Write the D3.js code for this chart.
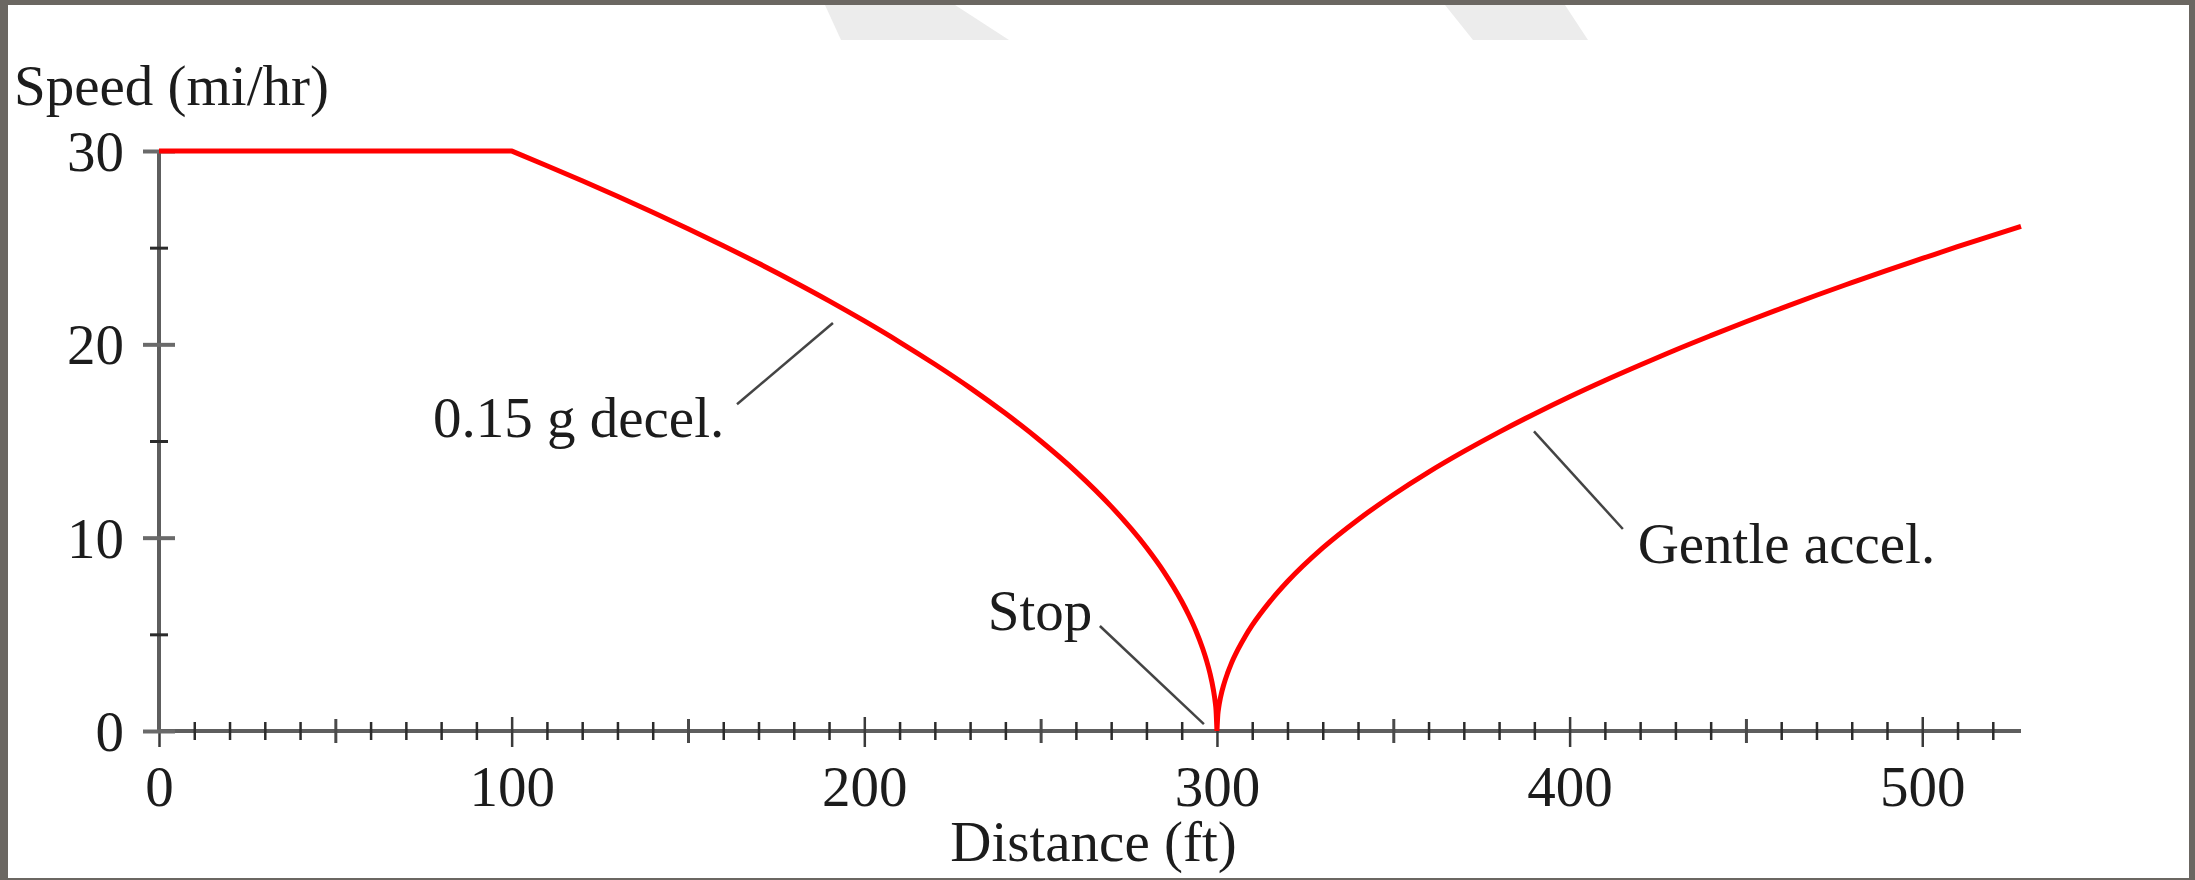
<!DOCTYPE html>
<html>
<head>
<meta charset="utf-8">
<script src="https://cdn.jsdelivr.net/npm/d3@7"></script>
<style>
  html, body { margin: 0; padding: 0; background: #ffffff; overflow: hidden; }
  svg text { font-family: "Liberation Serif", "Times New Roman", serif; fill: #1c1c1c; }
</style>
</head>
<body>
<svg id="chart" width="2195" height="880"></svg>
<script>
// Speed profile of a vehicle: cruise, brake to a stop, then pull away again.
// Distance in feet, speed in miles per hour.
const cruiseDist  = [0, 100];
const cruiseSpeed = [30, 30];

const decelDist  = [100, 110, 120, 130, 140, 150, 160, 170, 180, 190, 200, 210, 220,
                    230, 240, 250, 260, 270, 280, 285, 290, 292, 294, 296, 297, 298,
                    299, 299.5, 299.75, 300];
const decelSpeed = [30, 29.24, 28.46, 27.66, 26.83, 25.98, 25.10, 24.19, 23.24, 22.25,
                    21.21, 20.12, 18.97, 17.75, 16.43, 15.00, 13.42, 11.62, 9.49, 8.22,
                    6.71, 6.00, 5.20, 4.24, 3.67, 3.00, 2.12, 1.50, 1.06, 0];

const accelDist  = [300, 300.25, 300.5, 301, 302, 303, 304, 306, 308, 310, 315, 320, 330,
                    340, 350, 360, 370, 380, 390, 400, 410, 420, 430, 440, 450, 460, 470,
                    480, 490, 500, 510, 520, 528];
const accelSpeed = [0, 0.86, 1.22, 1.73, 2.44, 2.99, 3.46, 4.23, 4.89, 5.47, 6.69, 7.73,
                    9.47, 10.93, 12.22, 13.39, 14.46, 15.46, 16.40, 17.29, 18.13, 18.93,
                    19.71, 20.45, 21.17, 21.86, 22.54, 23.19, 23.83, 24.44, 25.05, 25.64,
                    26.10];

const xTickLabels = [0, 100, 200, 300, 400, 500];
const yTickLabels = [0, 10, 20, 30];

const noteLabels = ["0.15 g decel.", "Stop", "Gentle accel."];

// ---------------------------------------------------------------------------
const W = 2195, H = 880;
const svg = d3.select("#chart");

// frame and page
svg.append("rect").attr("width", W).attr("height", H).attr("fill", "#6b6762");
svg.append("rect").attr("x", 8).attr("y", 5).attr("width", 2181).attr("height", 873).attr("fill", "#ffffff");

// faint marks along the top edge of the page
const shade = [
  [[825, 5], [955, 5], [1009, 40], [841, 40]],
  [[1445, 5], [1565, 5], [1588, 40], [1473, 40]]
];
svg.selectAll("polygon.shade").data(shade).join("polygon")
  .attr("class", "shade")
  .attr("points", d => d.map(p => p.join(",")).join(" "))
  .attr("fill", "#ececec");

const xMax = 528;
const x = d3.scaleLinear().domain([0, xMax]).range([159, 2021]);
const y = d3.scaleLinear().domain([0, 30]).range([731, 151]);

const axisColor = "#5e5e5e";
const tickColor = "#2b2b2b";

// ---- x axis ----
const minorX = d3.range(10, xMax, 10).filter(v => v % 50 !== 0);
const midX = d3.range(50, xMax, 100);

function crossTicks(g, up, down, color, width) {
  g.select(".domain").remove();
  g.selectAll(".tick line")
    .attr("y1", -up).attr("y2", down)
    .attr("stroke", color).attr("stroke-width", width);
  g.selectAll(".tick text").remove();
}

const xAxisG = svg.append("g");
xAxisG.append("line")
  .attr("x1", x(0)).attr("x2", x(xMax)).attr("y1", y(0)).attr("y2", y(0))
  .attr("stroke", axisColor).attr("stroke-width", 4);

xAxisG.append("g").attr("transform", `translate(0,${y(0)})`)
  .call(d3.axisBottom(x).tickValues(minorX).tickSizeOuter(0))
  .call(g => crossTicks(g, 9, 9, tickColor, 2.5));
xAxisG.append("g").attr("transform", `translate(0,${y(0)})`)
  .call(d3.axisBottom(x).tickValues(midX).tickSizeOuter(0))
  .call(g => crossTicks(g, 12, 12, "#4a4a4a", 3));
xAxisG.append("g").attr("transform", `translate(0,${y(0)})`)
  .call(d3.axisBottom(x).tickValues(xTickLabels).tickSizeOuter(0))
  .call(g => crossTicks(g, 14, 16, "#3a3a3a", 2.5));

// x tick labels
xAxisG.append("g").attr("transform", `translate(0,${y(0)})`)
  .call(d3.axisBottom(x).tickValues(xTickLabels).tickSize(0).tickPadding(75).tickFormat(d3.format("d")))
  .call(g => g.select(".domain").remove())
  .call(g => g.selectAll(".tick text")
    .attr("font-family", "Liberation Serif, serif")
    .attr("font-size", 57).attr("fill", "#1c1c1c").attr("dy", 0));

// ---- y axis ----
const yAxisG = svg.append("g");
yAxisG.append("line")
  .attr("x1", x(0)).attr("x2", x(0)).attr("y1", y(0)).attr("y2", y(30))
  .attr("stroke", axisColor).attr("stroke-width", 4);

function crossTicksY(g, half, color, width) {
  g.select(".domain").remove();
  g.selectAll(".tick line")
    .attr("x1", -half).attr("x2", half)
    .attr("stroke", color).attr("stroke-width", width);
  g.selectAll(".tick text").remove();
}

yAxisG.append("g").attr("transform", `translate(${x(0)},0)`)
  .call(d3.axisLeft(y).tickValues([5, 15, 25]).tickSizeOuter(0))
  .call(g => crossTicksY(g, 9, tickColor, 3));
yAxisG.append("g").attr("transform", `translate(${x(0)},0)`)
  .call(d3.axisLeft(y).tickValues(yTickLabels).tickSizeOuter(0))
  .call(g => crossTicksY(g, 16, "#6a6a6a", 4));

yAxisG.append("g").attr("transform", `translate(${x(0)},0)`)
  .call(d3.axisLeft(y).tickValues(yTickLabels).tickSize(0).tickPadding(35).tickFormat(d3.format("d")))
  .call(g => g.select(".domain").remove())
  .call(g => g.selectAll(".tick text")
    .attr("font-family", "Liberation Serif, serif")
    .attr("font-size", 57).attr("fill", "#1c1c1c").attr("dy", "0.34em"));

// axis titles
svg.append("text").attr("x", 14).attr("y", 105)
  .attr("font-size", 57).text("Speed (mi/hr)");
svg.append("text").attr("x", x(265)).attr("y", 861)
  .attr("text-anchor", "middle").attr("font-size", 57).text("Distance (ft)");

// ---- annotations ----
const notes = [
  { label: noteLabels[0], tx: 77.7, ty: 15.2, from: [163.9, 16.9], to: [191.1, 21.1] },
  { label: noteLabels[1], tx: 235.0, ty: 5.22, from: [266.8, 5.43], to: [296.3, 0.36] },
  { label: noteLabels[2], tx: 419.3, ty: 8.69, from: [415.1, 10.45], to: [389.9, 15.5] }
];
const noteG = svg.append("g");
noteG.selectAll("line").data(notes).join("line")
  .attr("x1", d => x(d.from[0])).attr("y1", d => y(d.from[1]))
  .attr("x2", d => x(d.to[0])).attr("y2", d => y(d.to[1]))
  .attr("stroke", "#444").attr("stroke-width", 2.5);
noteG.selectAll("text").data(notes).join("text")
  .attr("x", d => x(d.tx)).attr("y", d => y(d.ty))
  .attr("font-size", 57).text(d => d.label);

// ---- speed curve ----
const toPts = (xs, ys) => xs.map((d, i) => [d, ys[i]]);
const lineLin = d3.line().x(d => x(d[0])).y(d => y(d[1]));
const lineSmooth = d3.line().x(d => x(d[0])).y(d => y(d[1])).curve(d3.curveMonotoneX);

const pathD = lineLin(toPts(cruiseDist, cruiseSpeed))
  + lineSmooth(toPts(decelDist, decelSpeed)).replace(/^M/, "L")
  + lineSmooth(toPts(accelDist, accelSpeed)).replace(/^M/, "L");

svg.append("path")
  .attr("d", pathD)
  .attr("fill", "none")
  .attr("stroke", "#ff0000")
  .attr("stroke-width", 5)
  .attr("stroke-linejoin", "miter")
  .attr("stroke-miterlimit", 4);
</script>
</body>
</html>
